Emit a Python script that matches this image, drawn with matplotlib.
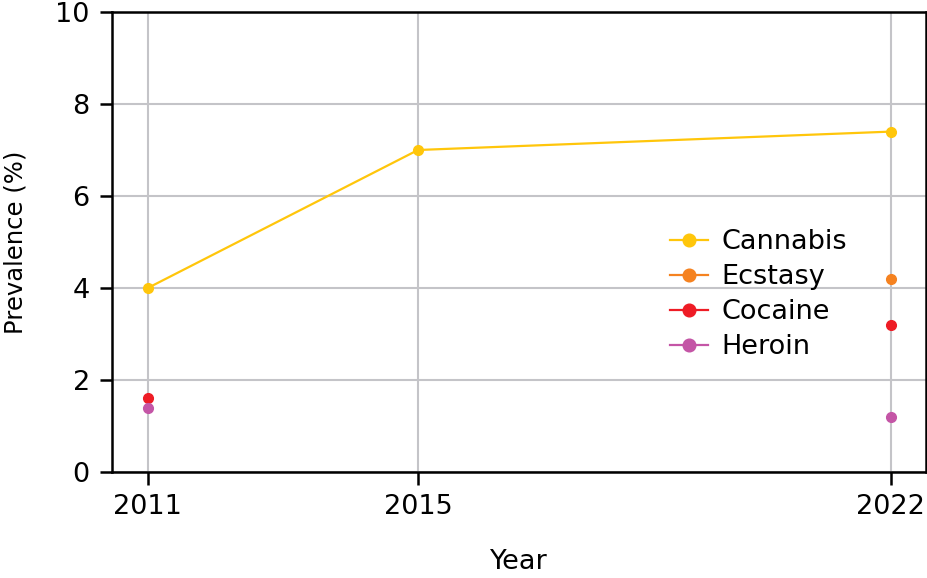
import numpy as np
import matplotlib.pyplot as plt

years = [2011, 2015, 2022]
cannabis = [4.0, 7.0, 7.4]
ecstasy = [np.nan, np.nan, 4.2]
cocaine = [1.6, np.nan, 3.2]
heroin = [1.4, np.nan, 1.2]

series = [("Cannabis", cannabis, "#FFC60B"),
          ("Ecstasy", ecstasy, "#F58220"),
          ("Cocaine", cocaine, "#EE1C25"),
          ("Heroin", heroin, "#C455A6")]

plt.rcParams['font.family'] = ['DejaVu Sans']
fig = plt.figure(figsize=(9.28, 5.78), dpi=100)
ax = fig.add_axes([112/928, 106/578, 814/928, 460/578])

for name, vals, col in series:
    ax.plot(years, vals, color=col, lw=1.6, marker='o', ms=7, label=name)

ax.set_xlim(2010.47, 2022.52)
ax.set_ylim(0, 10)
ax.set_xticks(years)
ax.set_yticks([0, 2, 4, 6, 8, 10])
ax.grid(True, color='#c4c4c8', lw=1.5)
ax.set_axisbelow(True)
for s in ax.spines.values():
    s.set_linewidth(1.8)
ax.tick_params(direction='out', length=9, width=1.8, labelsize=19.5, pad=7)
ax.set_xlabel("Year", fontsize=19.5, labelpad=21)
ax.set_ylabel("Prevalence (%)", fontsize=17.5, labelpad=20)

leg = ax.legend(loc='upper left', bbox_to_anchor=(0.672, 0.551), frameon=False,
                fontsize=19.5, handlelength=1.4, handletextpad=0.5,
                borderaxespad=0, labelspacing=0.33, markerscale=1.3)

fig.savefig("out.png", dpi=100)
